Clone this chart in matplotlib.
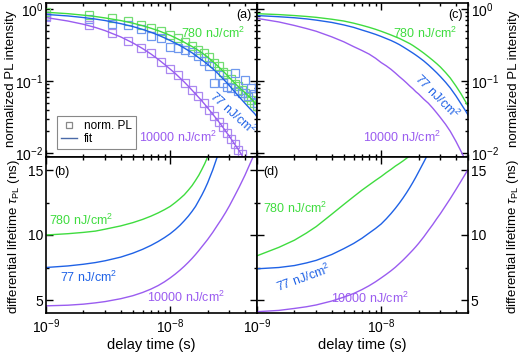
import numpy as np
import matplotlib
matplotlib.use('Agg')
import matplotlib.pyplot as plt
from matplotlib.ticker import LogLocator, MultipleLocator, NullFormatter

plt.rcParams['font.family'] = ['Liberation Sans', 'DejaVu Sans']
plt.rcParams['mathtext.fontset'] = 'custom'
plt.rcParams['mathtext.rm'] = 'Liberation Sans'
plt.rcParams['mathtext.it'] = 'Liberation Sans:italic'
plt.rcParams['axes.unicode_minus'] = False

# time grid for model curves (ns)
t_fit = [1, 1.5, 2, 2.5, 3, 4, 5, 6, 7, 8, 9, 10, 11, 12, 13, 14, 15, 16, 17, 18, 19, 20,
         22, 24, 26, 28, 30, 33, 36, 40, 44, 48, 52]

# (a) fits
fit_a_780 = [0.90, 0.86, 0.82, 0.785, 0.75, 0.69, 0.635, 0.585, 0.54, 0.50, 0.463, 0.43, 0.398, 0.37, 0.344, 0.32,
             0.301, 0.282, 0.264, 0.246, 0.23, 0.215, 0.187, 0.163, 0.143, 0.126, 0.111, 0.094, 0.081, 0.069, 0.059, 0.050, 0.043]
fit_a_77 = [0.84, 0.80, 0.76, 0.724, 0.69, 0.625, 0.57, 0.52, 0.475, 0.434, 0.397, 0.365, 0.336, 0.31, 0.286, 0.265,
            0.246, 0.227, 0.21, 0.196, 0.183, 0.17, 0.148, 0.129, 0.112, 0.098, 0.086, 0.071, 0.06, 0.049, 0.041, 0.035, 0.029]
fit_a_10000 = [0.76, 0.68, 0.613, 0.553, 0.499, 0.409, 0.338, 0.282, 0.237, 0.20, 0.17, 0.146, 0.127, 0.110, 0.0965, 0.0845,
               0.0745, 0.066, 0.0589, 0.0528, 0.0473, 0.0425, 0.0346, 0.0287, 0.024, 0.020, 0.017, 0.0133, 0.0107, 0.0079, 0.006, 0.0046, 0.0036]

# (a) measured PL
t_data = [1.0, 2.2, 3.4, 4.6, 5.8, 7.0, 8.4, 9.9, 11.5, 13.2, 15.0, 16.8, 18.6, 20.5, 22.5, 24.5, 26.5, 28.5,
          30.7, 33.0, 35.3, 37.7, 40.1, 42.6, 45.1, 47.6, 49.9]
pl_780 = [0.90, 0.82, 0.74, 0.67, 0.60, 0.55, 0.50, 0.44, 0.39, 0.35, 0.31, 0.27, 0.245, 0.215, 0.18, 0.16, 0.135,
          0.125, 0.105, 0.092, 0.085, 0.074, 0.068, 0.060, 0.055, 0.050, 0.045]
pl_77 = [0.80, 0.73, 0.62, 0.60, 0.52, 0.42, 0.40, 0.30, 0.29, 0.27, 0.25, 0.22, 0.19, 0.16, 0.094, 0.12, 0.095,
         0.083, 0.080, 0.13, 0.072, 0.068, 0.103, 0.062, 0.080, 0.066, 0.050]
pl_10000 = [0.78, 0.60, 0.47, 0.36, 0.29, 0.245, 0.185, 0.148, 0.12, 0.094, 0.076, 0.062, 0.049, 0.040, 0.033,
            0.027, 0.023, 0.019, 0.0158, 0.0132, 0.011, 0.0097]

# (b) differential lifetime from fits (ns)
tau_b_780 = [10.0, 10.1, 10.2, 10.3, 10.45, 10.7, 10.95, 11.2, 11.45, 11.7, 11.95, 12.2, 12.5, 12.8, 13.1, 13.45,
             13.8, 14.2, 14.6, 15.05, 15.5, 16.0, 17.0]
tau_b_77 = [7.5, 7.62, 7.75, 7.88, 8.02, 8.3, 8.6, 8.9, 9.2, 9.5, 9.8, 10.1, 10.42, 10.75, 11.1, 11.45, 11.82,
            12.2, 12.65, 13.08, 13.53, 14.0, 15.0, 16.05, 17.1]
tau_b_10000 = [4.55, 4.6, 4.68, 4.78, 4.88, 5.1, 5.33, 5.58, 5.84, 6.11, 6.4, 6.7, 7.0, 7.3, 7.6, 7.9, 8.2, 8.5,
               8.8, 9.1, 9.38, 9.65, 10.2, 10.75, 11.25, 11.75, 12.25, 13.0, 13.7, 14.6, 15.5, 16.3]

# (c) model curves
mod_c_780 = [0.86, 0.835, 0.81, 0.787, 0.765, 0.72, 0.68, 0.635, 0.593, 0.556, 0.522, 0.49, 0.461, 0.435, 0.411, 0.39,
             0.368, 0.348, 0.33, 0.311, 0.292, 0.275, 0.244, 0.217, 0.194, 0.174, 0.156, 0.131, 0.11, 0.085, 0.066, 0.051, 0.040]
mod_c_77 = [0.81, 0.78, 0.755, 0.728, 0.70, 0.65, 0.60, 0.555, 0.51, 0.475, 0.444, 0.415, 0.388, 0.365, 0.342, 0.32,
            0.298, 0.278, 0.26, 0.244, 0.229, 0.215, 0.19, 0.167, 0.147, 0.13, 0.115, 0.096, 0.08, 0.062, 0.048, 0.038, 0.030]
mod_c_10000 = [0.74, 0.66, 0.59, 0.535, 0.49, 0.41, 0.35, 0.30, 0.265, 0.236, 0.207, 0.18, 0.162, 0.145, 0.129, 0.115,
               0.104, 0.094, 0.085, 0.078, 0.071, 0.066, 0.056, 0.049, 0.042, 0.036, 0.031, 0.025, 0.020, 0.0145, 0.0105, 0.0078, 0.0058]

# (d) model lifetimes
tau_d_780 = [8.4, 9.05, 9.6, 10.15, 10.65, 11.6, 12.35, 12.95, 13.45, 13.85, 14.2, 14.5, 14.8, 15.05, 15.3, 15.5,
             15.7, 15.9, 16.1, 16.3]
tau_d_77 = [7.4, 7.5, 7.65, 7.85, 8.05, 8.5, 8.95, 9.35, 9.75, 10.15, 10.5, 10.85, 11.25, 11.65, 12.05, 12.45,
            12.85, 13.25, 13.65, 14.05, 14.45, 14.85, 15.6, 16.3]
tau_d_10000 = [4.1, 4.2, 4.35, 4.48, 4.62, 4.92, 5.22, 5.5, 5.8, 6.1, 6.4, 6.7, 6.98, 7.25, 7.52, 7.8, 8.07, 8.34,
               8.6, 8.85, 9.1, 9.35, 9.85, 10.35, 10.8, 11.25, 11.65, 12.25, 12.8, 13.5, 14.15, 14.75, 15.3]

labels = ['780 nJ/cm$^2$', '77 nJ/cm$^2$', '10000 nJ/cm$^2$']
c_green = '#3fdc3f'
c_blue = '#1f62e6'
c_purple = '#9a5cf0'
m_green = '#72dd72'
m_blue = '#6f98ee'
m_purple = '#ab88f0'

tf = np.array(t_fit) * 1e-9
td = np.array(t_data) * 1e-9

fig = plt.figure(figsize=(5.24, 3.56), dpi=100)
W, H = 524.0, 356.0
ax_a = fig.add_axes([46 / W, 1 - 157 / H, 211 / W, 154 / H])
ax_c = fig.add_axes([257 / W, 1 - 157 / H, 211 / W, 154 / H])
ax_b = fig.add_axes([46 / W, 1 - 313 / H, 211 / W, 156 / H])
ax_d = fig.add_axes([257 / W, 1 - 313 / H, 211 / W, 156 / H])

lw = 1.0
fs = 9

# panel a
ax_a.plot(td, pl_780, 's', mfc='none', mec=m_green, ms=5.5, mew=0.9)
ax_a.plot(td, pl_77, 's', mfc='none', mec=m_blue, ms=5.5, mew=0.9)
ax_a.plot(td[:len(pl_10000)], pl_10000, 's', mfc='none', mec=m_purple, ms=5.5, mew=0.9)
ax_a.plot(tf, fit_a_780, color=c_green, lw=lw)
ax_a.plot(tf, fit_a_77, color=c_blue, lw=lw)
ax_a.plot(tf, fit_a_10000, color=c_purple, lw=lw)
h1, = ax_a.plot([], [], 's', mfc='none', mec='#888888', ms=5, mew=0.9)
h2, = ax_a.plot([], [], color='#4a6aa8', lw=lw)
leg = ax_a.legend([h1, h2], ['norm. PL', 'fit'], loc='lower left', bbox_to_anchor=(0.052, 0.052),
                  borderaxespad=0, fontsize=8.5, fancybox=False, framealpha=1, edgecolor='#888888',
                  handlelength=1.4, handletextpad=0.6, borderpad=0.3, labelspacing=0.15)
leg.get_frame().set_linewidth(0.8)

# panel c
ax_c.plot(tf, mod_c_780, color=c_green, lw=lw)
ax_c.plot(tf, mod_c_77, color=c_blue, lw=lw)
ax_c.plot(tf, mod_c_10000, color=c_purple, lw=lw)

# panel b
ax_b.plot(tf[:len(tau_b_780)], tau_b_780, color=c_green, lw=lw)
ax_b.plot(tf[:len(tau_b_77)], tau_b_77, color=c_blue, lw=lw)
ax_b.plot(tf[:len(tau_b_10000)], tau_b_10000, color=c_purple, lw=lw)

# panel d
ax_d.plot(tf[:len(tau_d_780)], tau_d_780, color=c_green, lw=lw)
ax_d.plot(tf[:len(tau_d_77)], tau_d_77, color=c_blue, lw=lw)
ax_d.plot(tf[:len(tau_d_10000)], tau_d_10000, color=c_purple, lw=lw)

for ax in [ax_a, ax_b, ax_c, ax_d]:
    ax.set_xscale('log')
    ax.set_xlim(1e-9, 5e-8)
    ax.xaxis.set_major_locator(LogLocator(base=10, numticks=10))
    ax.xaxis.set_minor_locator(LogLocator(base=10, subs=np.arange(2, 10), numticks=10))
    ax.xaxis.set_minor_formatter(NullFormatter())
    ax.tick_params(which='both', direction='in', top=True, right=True, labelsize=10, width=1.0)
    ax.tick_params(which='major', length=5)
    ax.tick_params(which='minor', length=2.5)
    ax.tick_params(axis='y', pad=2)
    for s in ax.spines.values():
        s.set_linewidth(1.2)

for ax in [ax_a, ax_c]:
    ax.set_yscale('log')
    ax.set_ylim(0.0088, 1.21)
    ax.yaxis.set_minor_locator(LogLocator(base=10, subs=np.arange(2, 10), numticks=10))
    ax.yaxis.set_minor_formatter(NullFormatter())
    ax.tick_params(labelbottom=False)

for ax in [ax_b, ax_d]:
    ax.set_ylim(4, 16)
    ax.yaxis.set_major_locator(MultipleLocator(5))
    ax.yaxis.set_minor_locator(MultipleLocator(2.5))
    ax.set_xlabel('delay time (s)', fontsize=10.5, labelpad=1)

for ax in [ax_c, ax_d]:
    ax.tick_params(labelleft=False, labelright=True)
    ax.yaxis.set_label_position('right')

ax_a.set_ylabel('normalized PL intensity', fontsize=9.5, va='center')
ax_c.set_ylabel('normalized PL intensity', fontsize=9.5, va='center')
ax_b.set_ylabel(r'differential lifetime $\tau_{\rm PL}$ (ns)', fontsize=9.5, va='center')
ax_d.set_ylabel(r'differential lifetime $\tau_{\rm PL}$ (ns)', fontsize=9.5, va='center')
ax_a.yaxis.set_label_coords(-0.165, 0.51)
ax_b.yaxis.set_label_coords(-0.152, 0.49)
ax_c.yaxis.set_label_coords(1.218, 0.51)
ax_d.yaxis.set_label_coords(1.212, 0.49)

def put(ax, x, y, s, c, rot=0, ha='center'):
    ax.text(x, y, s, color=c, fontsize=fs, rotation=rot, ha=ha, va='center',
            transform=ax.transAxes, rotation_mode='anchor')

put(ax_a, 0.79, 0.805, labels[0], c_green)
put(ax_a, 0.886, 0.286, labels[1], c_blue, rot=-42)
put(ax_a, 0.626, 0.13, labels[2], c_purple)
put(ax_a, 0.976, 0.922, '(a)', 'black', ha='right')

put(ax_c, 0.796, 0.805, labels[0], c_green)
put(ax_c, 0.853, 0.39, labels[1], c_blue, rot=-45)
put(ax_c, 0.687, 0.13, labels[2], c_purple)
put(ax_c, 0.976, 0.922, '(c)', 'black', ha='right')

put(ax_b, 0.038, 0.904, '(b)', 'black', ha='left')
put(ax_b, 0.166, 0.596, labels[0], c_green)
put(ax_b, 0.204, 0.231, labels[1], c_blue)
put(ax_b, 0.664, 0.103, labels[2], c_purple)

put(ax_d, 0.028, 0.904, '(d)', 'black', ha='left')
put(ax_d, 0.18, 0.673, labels[0], c_green)
put(ax_d, 0.22, 0.225, labels[1], c_blue, rot=20)
put(ax_d, 0.536, 0.096, labels[2], c_purple)

fig.savefig('out.png', dpi=100)
